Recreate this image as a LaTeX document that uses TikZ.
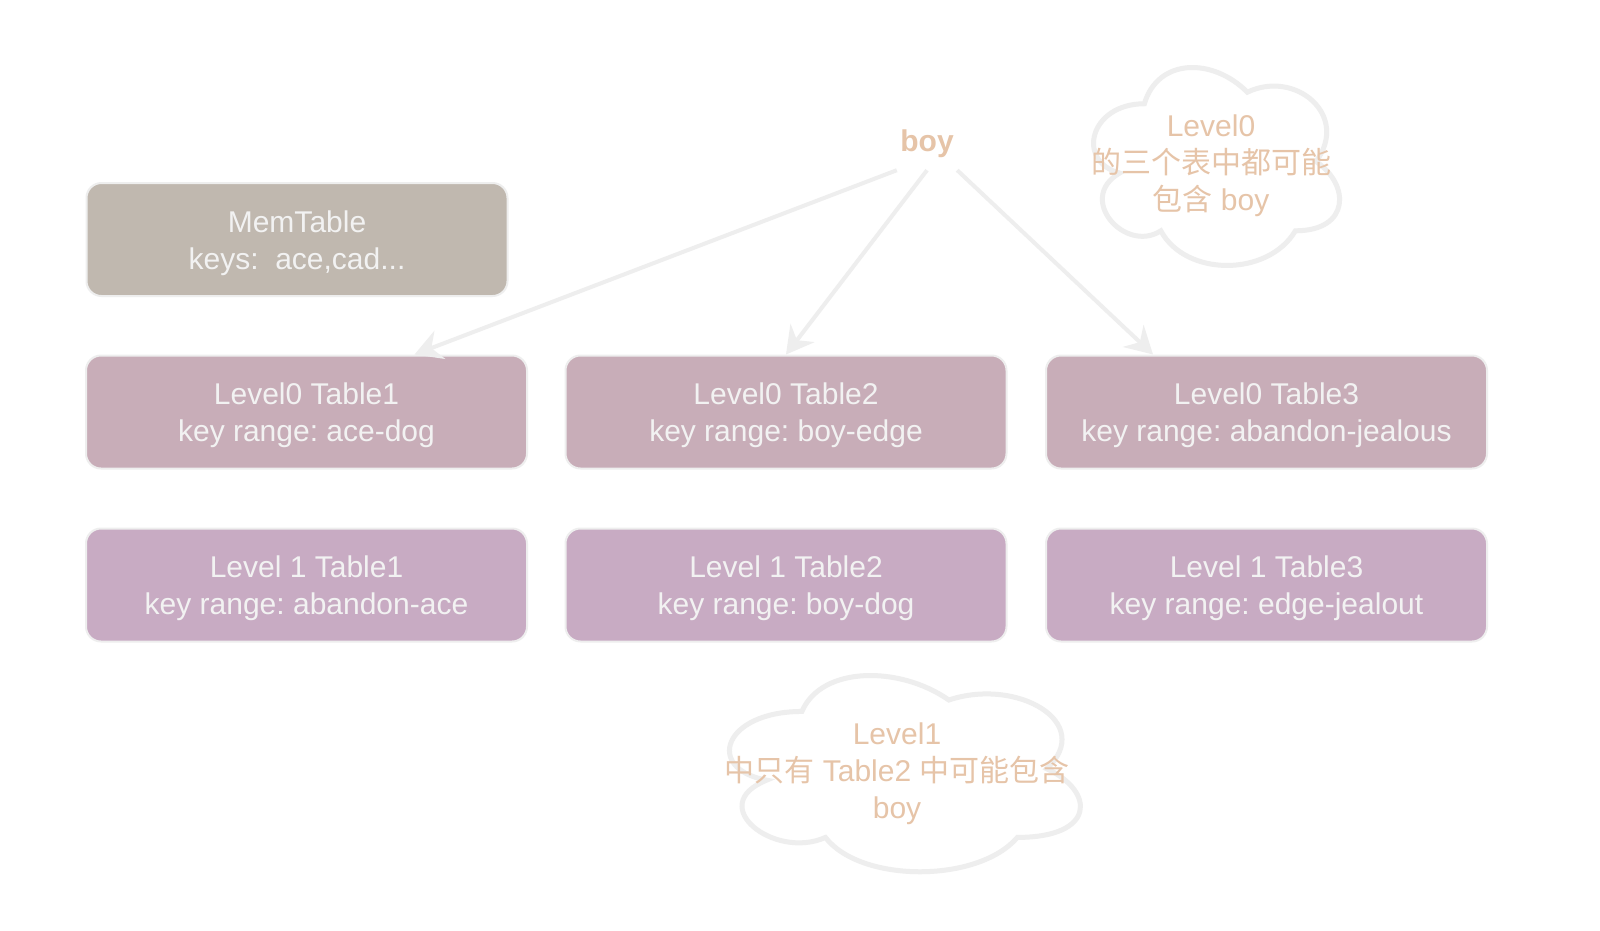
\documentclass[tikz,border=0pt]{standalone}
\usepackage{fontspec}
\setmainfont{Liberation Sans}
\newfontfamily\cjk{Noto Sans CJK SC}
\usetikzlibrary{arrows.meta}
\frenchspacing
\definecolor{memfill}{HTML}{C0B8AF}
\definecolor{lzfill}{HTML}{C8ADB8}
\definecolor{lofill}{HTML}{C8ABC3}
\definecolor{edgegray}{HTML}{EEEEEE}
\definecolor{boxtext}{HTML}{F2F2F2}
\definecolor{orangetext}{HTML}{E6C4A8}
\newcommand\drawmycloud[5]{%
\draw[#1] ({#2+0.25*#4},{#3+0.25*#5})
 .. controls ({#2+0.05*#4},{#3+0.25*#5}) and ({#2},{#3+0.5*#5}) .. ({#2+0.16*#4},{#3+0.55*#5})
 .. controls ({#2},{#3+0.66*#5}) and ({#2+0.18*#4},{#3+0.9*#5}) .. ({#2+0.31*#4},{#3+0.8*#5})
 .. controls ({#2+0.4*#4},{#3+#5}) and ({#2+0.7*#4},{#3+#5}) .. ({#2+0.8*#4},{#3+0.8*#5})
 .. controls ({#2+#4},{#3+0.8*#5}) and ({#2+#4},{#3+0.6*#5}) .. ({#2+0.875*#4},{#3+0.5*#5})
 .. controls ({#2+#4},{#3+0.3*#5}) and ({#2+0.8*#4},{#3+0.1*#5}) .. ({#2+0.625*#4},{#3+0.2*#5})
 .. controls ({#2+0.5*#4},{#3+0.05*#5}) and ({#2+0.3*#4},{#3+0.05*#5}) .. cycle;}
\newcommand\topstrut{\rule{0pt}{29pt}}
\begin{document}
\begin{tikzpicture}[x=1pt,y=-1pt,
  every node/.style={font=\fontsize{30}{37}\selectfont},
  tbox/.style={draw=edgegray, line width=2pt, rounded corners=15pt, text=boxtext,
    align=center, inner sep=0pt, minimum height=113pt},
  cloudline/.style={draw=edgegray, fill=white, line width=5pt},
  cloudtext/.style={text=orangetext, align=center, inner sep=0pt},
  arr/.style={draw=edgegray, line width=4pt,
    -{Stealth[length=27pt, width=30pt, inset=9pt]}}]
\useasboundingbox (0,0) rectangle (1600,930);
\fill[white] (0,0) rectangle (1600,930);

% clouds
\drawmycloud{cloudline}{1075.7}{46}{274.6}{231}
\drawmycloud{cloudline}{704}{654.2}{391.7}{229}
\node[cloudtext] (c0text) at (1211,166) {Level0\\{\cjk 的三个表中都可能}\\{\cjk 包含} boy};
\node[cloudtext] (c1text) at (897,774) {Level1\\{\cjk 中只有} Table2 {\cjk 中可能包含}\\boy};

% boxes
\node[tbox, fill=memfill, minimum width=421pt] (mem) at (297,239.5) {\topstrut MemTable\\keys:\ \ ace,cad...};
\node[tbox, fill=lzfill, minimum width=441pt] (l0t1) at (306.5,412) {\topstrut Level0 Table1\\key range: ace-dog};
\node[tbox, fill=lzfill, minimum width=441pt] (l0t2) at (786,412) {\topstrut Level0 Table2\\key range: boy-edge};
\node[tbox, fill=lzfill, minimum width=441pt] (l0t3) at (1266.5,412) {\topstrut Level0 Table3\\key range: abandon-jealous};
\node[tbox, fill=lofill, minimum width=441pt] (l1t1) at (306.5,585) {\topstrut Level 1 Table1\\key range: abandon-ace};
\node[tbox, fill=lofill, minimum width=441pt] (l1t2) at (786,585) {\topstrut Level 1 Table2\\key range: boy-dog};
\node[tbox, fill=lofill, minimum width=441pt] (l1t3) at (1266.5,585) {\topstrut Level 1 Table3\\key range: edge-jealout};

% boy
\node[text=orangetext, font=\fontsize{30}{37}\selectfont\bfseries, minimum width=60pt, minimum height=52pt, inner sep=0pt] (boy) at (927,144) {boy};

% arrows
\draw[arr] (boy.south west) -- ([xshift=108pt]l0t1.north);
\draw[arr] (boy.south) -- (l0t2.north);
\draw[arr] (boy.south east) -- ([xshift=-113.5pt]l0t3.north);
\end{tikzpicture}
\end{document}
